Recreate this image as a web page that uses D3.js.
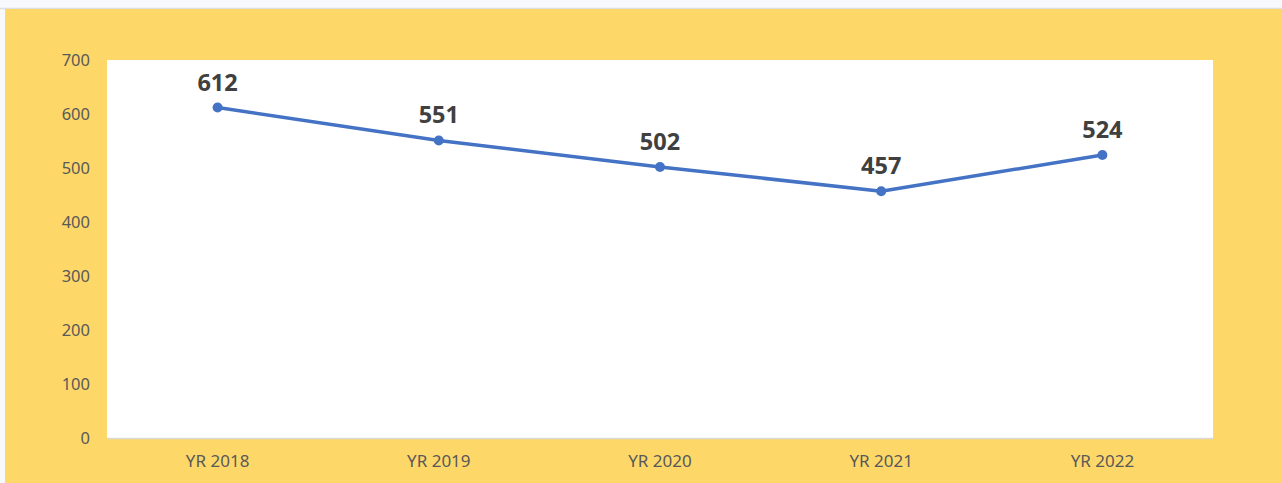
<!DOCTYPE html>
<html><head><meta charset="utf-8">
<script src="https://cdn.jsdelivr.net/npm/d3@7"></script>
<style>html,body{margin:0;padding:0;background:#fff;}svg{display:block;}</style>
</head><body>
<svg id="c" width="1282" height="483"></svg>
<script>
const categories = ["YR 2018","YR 2019","YR 2020","YR 2021","YR 2022"];
const values = [612,551,502,457,524];
const yTicks = [0,100,200,300,400,500,600,700];

const svg = d3.select("#c");
const W = 1282, H = 483;
const m = {left:107, right:1213, top:60, bottom:438};

// background
svg.append("rect").attr("x",0).attr("y",0).attr("width",W).attr("height",H).attr("fill","#f7f9fc");
svg.append("line").attr("x1",0).attr("x2",W).attr("y1",8.5).attr("y2",8.5).attr("stroke","#dcdfe3").attr("stroke-width",1.5);
svg.append("rect").attr("x",5).attr("y",9).attr("width",W-5).attr("height",H-9).attr("fill","#fdd869");
svg.append("rect").attr("x",m.left).attr("y",m.top).attr("width",m.right-m.left).attr("height",m.bottom-m.top).attr("fill","#ffffff");

const x = d3.scaleBand().domain(categories).range([m.left,m.right]);
const y = d3.scaleLinear().domain([0,700]).range([m.bottom,m.top]);

// baseline
svg.append("line").attr("x1",m.left).attr("x2",m.right).attr("y1",m.bottom+0.5).attr("y2",m.bottom+0.5).attr("stroke","#d9d9d9").attr("stroke-width",1.5);

const font = "'Noto Sans', 'DejaVu Sans', sans-serif";
// y axis labels
const ya = svg.append("g").attr("transform",`translate(${m.left-17},0)`)
  .call(d3.axisLeft(y).tickValues(yTicks).tickSize(0).tickPadding(0));
ya.select(".domain").remove();
ya.selectAll("text").attr("font-family",font).attr("font-size",16.5).attr("fill","#595959");

// x axis labels
const xa = svg.append("g").attr("transform",`translate(0,${m.bottom})`)
  .call(d3.axisBottom(x).tickSize(0).tickPadding(17));
xa.select(".domain").remove();
xa.selectAll("text").attr("font-family",font).attr("font-size",17).attr("fill","#595959");

const cx = d => x(d)+x.bandwidth()/2;
const line = d3.line().x((d,i)=>cx(categories[i])).y(d=>y(d));
svg.append("path").datum(values).attr("d",line).attr("fill","none").attr("stroke","#4472c4").attr("stroke-width",3.5).attr("stroke-linejoin","round");
svg.selectAll("circle.pt").data(values).enter().append("circle")
  .attr("cx",(d,i)=>cx(categories[i])).attr("cy",d=>y(d)).attr("r",5).attr("fill","#4472c4");
svg.selectAll("text.lbl").data(values).enter().append("text")
  .attr("x",(d,i)=>cx(categories[i])).attr("y",d=>y(d)-17)
  .attr("text-anchor","middle").attr("font-family",font).attr("font-weight","bold")
  .attr("font-size",23.5).attr("fill","#404040").text(d=>d);
</script>
</body></html>
